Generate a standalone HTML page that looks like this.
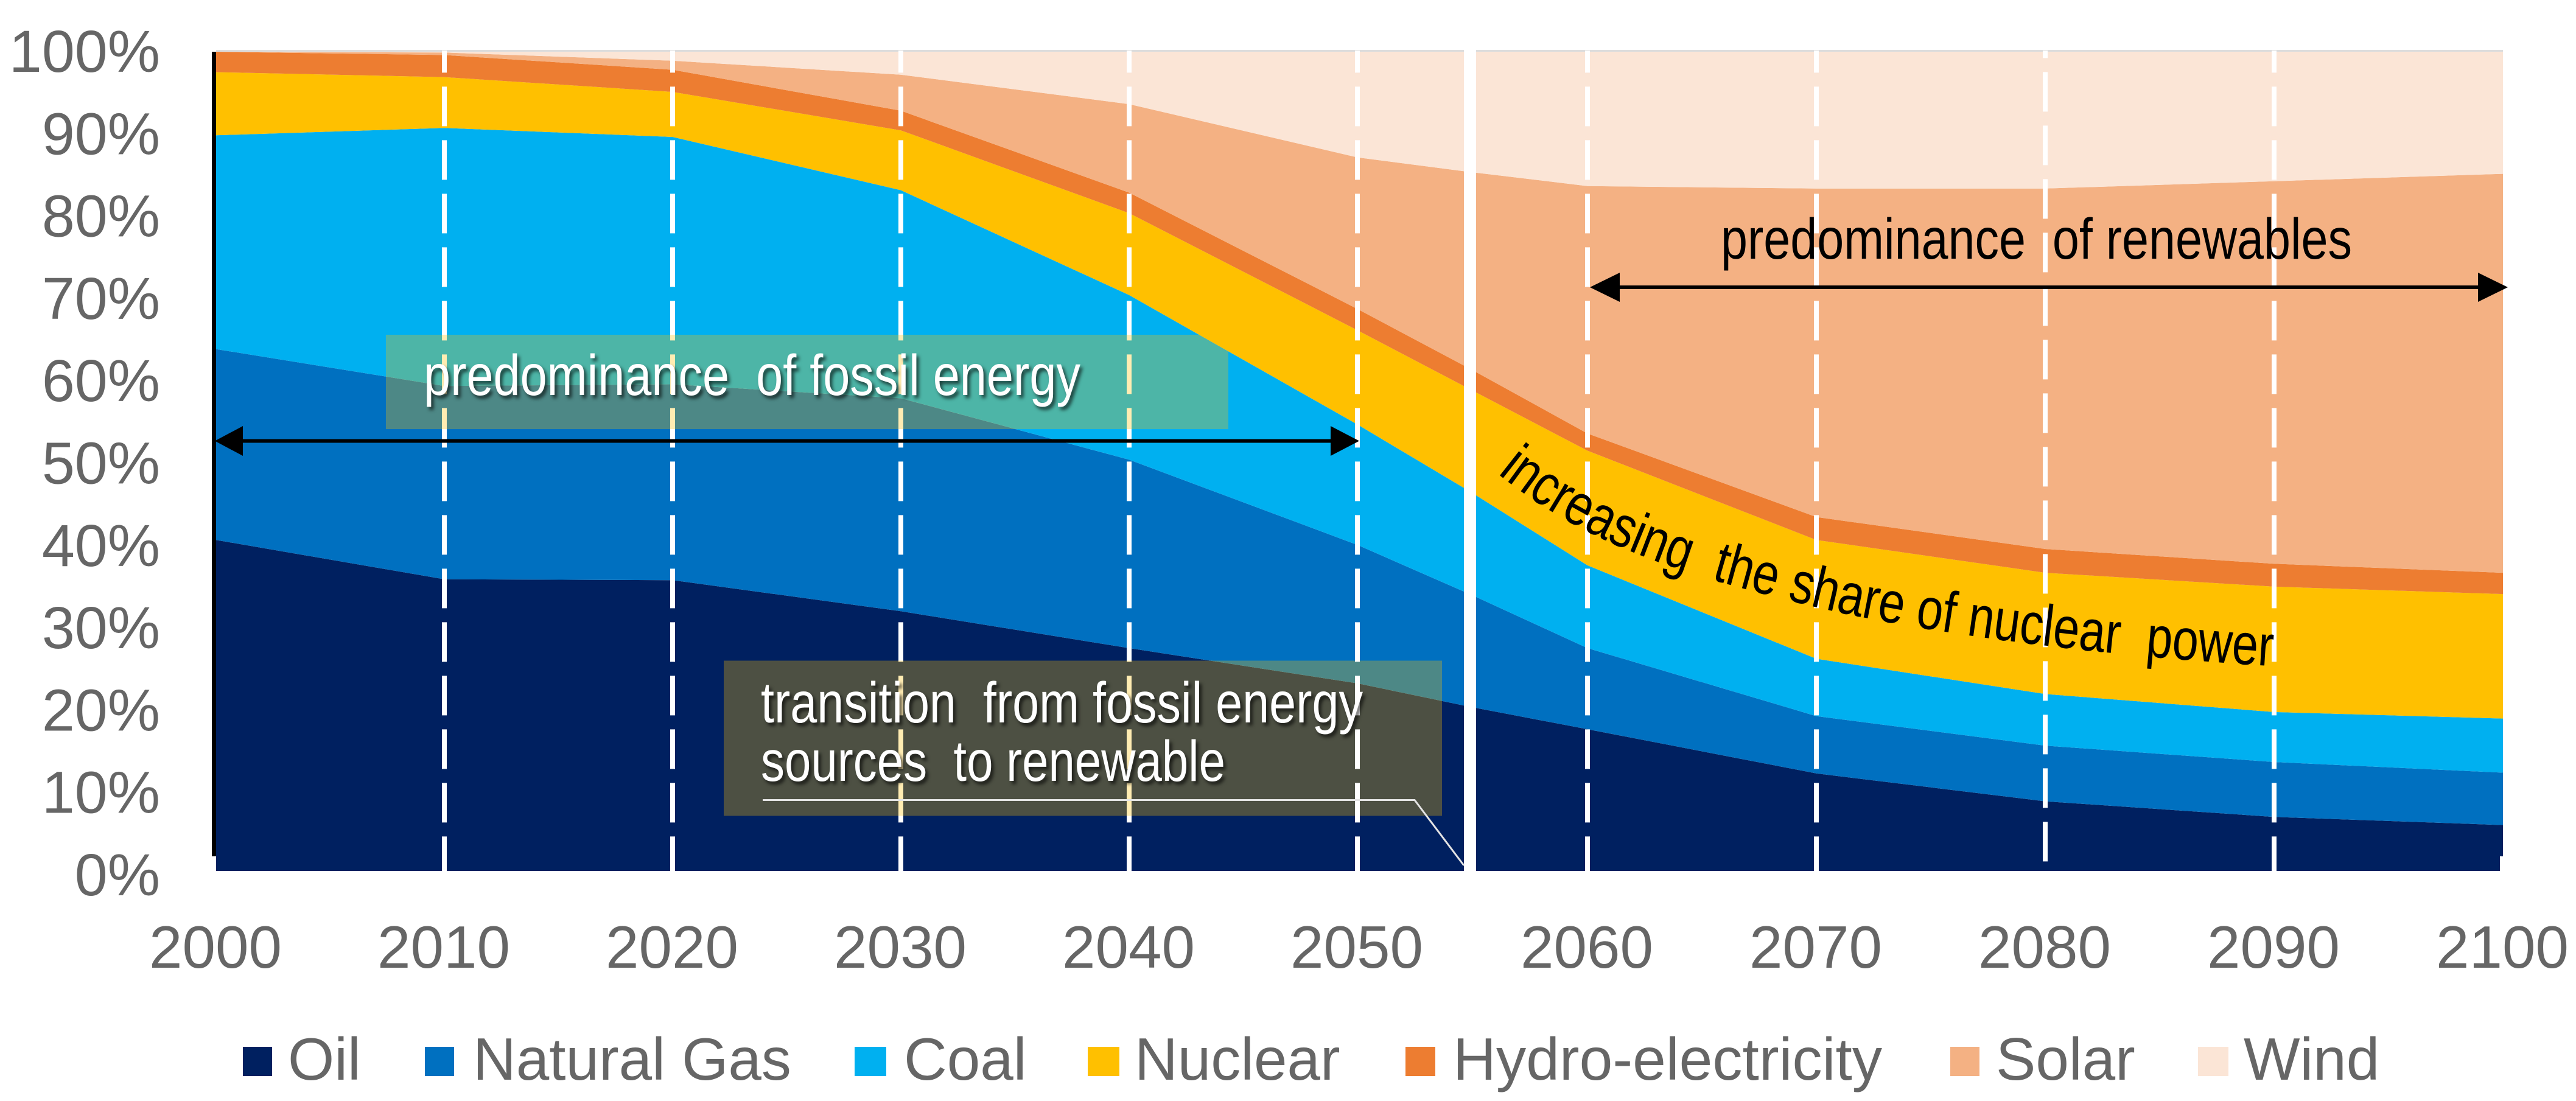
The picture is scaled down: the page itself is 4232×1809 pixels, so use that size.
<!DOCTYPE html>
<html lang="en">
<head>
<meta charset="utf-8">
<title>Energy mix share 2000-2100</title>
<style>
html,body{margin:0;padding:0;background:#fff;width:4232px;height:1809px;overflow:hidden}
svg{display:block}
text{font-family:"Liberation Sans",sans-serif;white-space:pre}
.tick{font-size:97px;fill:#666666}
.xtick{font-size:98px;fill:#666666}
.leg{font-size:98px;fill:#666666}
.note-w{font-size:95px;fill:#fff;filter:drop-shadow(4px 5px 3px rgba(0,0,0,.65))}
.note-b{font-size:95px;fill:#000}
</style>
</head>
<body>
<svg id="chart" xmlns="http://www.w3.org/2000/svg" width="4232" height="1809" viewBox="0 0 4232 1809">
  <defs>
    <clipPath id="plot-clip"><rect x="355" y="83" width="3757" height="1348"/></clipPath>
    <path id="nuclear-text-curve" d="M2460 778 C2600 890 2750 940 2942 987 C3100 1030 3400 1075 3760 1096"/>
  </defs>
  <g id="areas"></g>
  <rect x="355" y="82" width="3757" height="3" fill="#dcdcdc"/>
  <g id="grid" clip-path="url(#plot-clip)"></g>
  <rect x="634" y="550" width="1384" height="155" fill="#FFC000" fill-opacity="0.3"/>
  <rect x="1189" y="1085.5" width="1180" height="255" fill="#FFC000" fill-opacity="0.3"/>
  <g id="grid-top" clip-path="url(#plot-clip)"></g>
  <rect x="2405" y="80" width="20" height="1353" fill="#ffffff"/>
  <rect x="4107" y="1407" width="6" height="26" fill="#ffffff"/>
  <rect x="348" y="85" width="7" height="1322" fill="#000000"/>

  <g id="y-ticks"></g>
  <g id="x-ticks"></g>

  <g>
    <line x1="390" y1="724.5" x2="2195" y2="724.5" stroke="#000" stroke-width="6"/>
    <polygon points="353,724.5 399,700 399,749" fill="#000"/>
    <polygon points="2233,724.5 2186,700 2186,749" fill="#000"/>
  </g>
  <g>
    <line x1="2650" y1="472" x2="4080" y2="472" stroke="#000" stroke-width="6"/>
    <polygon points="2612,472 2661,448 2661,496" fill="#000"/>
    <polygon points="4120,472 4071,448 4071,496" fill="#000"/>
  </g>

  <text class="note-w" x="696" y="649" textLength="1079" lengthAdjust="spacingAndGlyphs">predominance  of fossil energy</text>
  <text class="note-w" x="1250" y="1187" textLength="989" lengthAdjust="spacingAndGlyphs">transition  from fossil energy</text>
  <text class="note-w" x="1250" y="1283" textLength="763" lengthAdjust="spacingAndGlyphs">sources  to renewable</text>
  <polyline points="1253,1314.5 2324,1314.5 2405,1422" fill="none" stroke="#e4e4e4" stroke-width="3"/>
  <text class="note-b" x="2827" y="425" textLength="1037" lengthAdjust="spacingAndGlyphs">predominance  of renewables</text>
  <text class="note-b" style="font-size:96px"><textPath href="#nuclear-text-curve" textLength="1330" lengthAdjust="spacingAndGlyphs">increasing  the share of nuclear  power</textPath></text>

  <g>
    <g><rect x="399" y="1720" width="48" height="48" fill="#002060"/><text class="leg" x="473" y="1774">Oil</text></g>
    <g><rect x="698" y="1720" width="48" height="48" fill="#0070C0"/><text class="leg" x="777" y="1774">Natural Gas</text></g>
    <g><rect x="1404" y="1720" width="52" height="48" fill="#00B0F0"/><text class="leg" x="1485" y="1774">Coal</text></g>
    <g><rect x="1787" y="1720" width="52" height="48" fill="#FFC000"/><text class="leg" x="1864" y="1774">Nuclear</text></g>
    <g><rect x="2309" y="1720" width="49" height="48" fill="#ED7D31"/><text class="leg" x="2387" y="1774" textLength="705" lengthAdjust="spacingAndGlyphs">Hydro-electricity</text></g>
    <g><rect x="3204" y="1720" width="48" height="48" fill="#F4B183"/><text class="leg" x="3279" y="1774">Solar</text></g>
    <g><rect x="3611" y="1720" width="50" height="48" fill="#FBE5D6"/><text class="leg" x="3686" y="1774">Wind</text></g>
  </g>
</svg>
<script>
const years = [2000, 2010, 2020, 2030, 2040, 2050, 2055, 2060, 2070, 2080, 2090, 2100];
const oil = [40.4, 35.6, 35.5, 31.7, 27.2, 22.9, 20.0, 17.3, 11.9, 8.5, 6.6, 5.6];
const naturalGas = [23.3, 23.6, 23.9, 26.0, 23.0, 16.9, 13.7, 9.9, 7.0, 6.8, 6.7, 6.4];
const coal = [26.1, 31.5, 30.2, 25.4, 20.1, 14.7, 12.5, 10.1, 7.0, 6.3, 6.1, 6.6];
const nuclear = [7.7, 6.2, 5.5, 7.3, 10.0, 11.5, 12.5, 14.0, 14.5, 14.8, 15.3, 15.2];
const hydro = [2.5, 2.7, 2.7, 2.4, 2.5, 2.6, 2.5, 2.1, 2.8, 2.9, 2.8, 2.6];
const solar = [0, 0.3, 1.1, 4.4, 10.8, 18.5, 24.1, 30.2, 40.1, 44.0, 46.7, 48.7];
const wind = [0, 0.1, 1.1, 2.8, 6.4, 12.9, 14.7, 16.4, 16.7, 16.7, 15.8, 14.9];
const seriesNames = ['oil', 'natural-gas', 'coal', 'nuclear', 'hydro-electricity', 'solar', 'wind'];
const seriesColors = ['#002060', '#0070C0', '#00B0F0', '#FFC000', '#ED7D31', '#F4B183', '#FBE5D6'];
const xTickYears = [2000, 2010, 2020, 2030, 2040, 2050, 2060, 2070, 2080, 2090, 2100];
const gridYears = [2010, 2020, 2030, 2040, 2050, 2060, 2070, 2080, 2090];
const yTickValues = [0, 10, 20, 30, 40, 50, 60, 70, 80, 90, 100];

const NS = 'http://www.w3.org/2000/svg';
function xScale(year) {
  return year <= 2055 ? 355 + (year - 2000) * 37.5 : 2608 + (year - 2060) * 37.6;
}
function yScale(pct) {
  return 1431 - pct * 13.46;
}
function yTickBaseline(pct) {
  return 1471 - pct * 13.53;
}

const allSeries = [oil, naturalGas, coal, nuclear, hydro, solar, wind];
const areasGroup = document.getElementById('areas');
let lower = years.map(function () { return 0; });
allSeries.forEach(function (values, s) {
  const upper = values.map(function (v, i) { return lower[i] + v; });
  let d = '';
  years.forEach(function (yr, i) {
    d += (i ? 'L' : 'M') + xScale(yr).toFixed(1) + ' ' + yScale(upper[i]).toFixed(1);
  });
  for (let i = years.length - 1; i >= 0; i--) {
    d += 'L' + xScale(years[i]).toFixed(1) + ' ' + yScale(lower[i]).toFixed(1);
  }
  d += 'Z';
  const area = document.createElementNS(NS, 'path');
  area.setAttribute('d', d);
  area.setAttribute('fill', seriesColors[s]);
  
  
  areasGroup.appendChild(area);
  lower = upper;
});

function addGridline(parent, year) {
  const line = document.createElementNS(NS, 'line');
  const start = year === 2080 ? 30.4 : 54.4;
  line.setAttribute('x1', xScale(year));
  line.setAttribute('x2', xScale(year));
  line.setAttribute('y1', start);
  line.setAttribute('y2', 1431);
  line.setAttribute('stroke', '#ffffff');
  line.setAttribute('stroke-width', '8');
  line.setAttribute('stroke-dasharray', '65 23');
  
  
  parent.appendChild(line);
}
gridYears.forEach(function (year) {
  addGridline(document.getElementById(year === 2050 ? 'grid-top' : 'grid'), year);
});

xTickYears.forEach(function (year) {
  const t = document.createElementNS(NS, 'text');
  t.setAttribute('class', 'xtick');
  t.setAttribute('x', xScale(year) - 1);
  t.setAttribute('y', 1590);
  t.setAttribute('text-anchor', 'middle');
  
  
  t.textContent = String(year);
  document.getElementById('x-ticks').appendChild(t);
});

yTickValues.forEach(function (v) {
  const t = document.createElementNS(NS, 'text');
  t.setAttribute('class', 'tick');
  t.setAttribute('x', 263);
  t.setAttribute('y', yTickBaseline(v));
  t.setAttribute('text-anchor', 'end');
  
  
  t.textContent = v + '%';
  document.getElementById('y-ticks').appendChild(t);
});
</script>
</body>
</html>
